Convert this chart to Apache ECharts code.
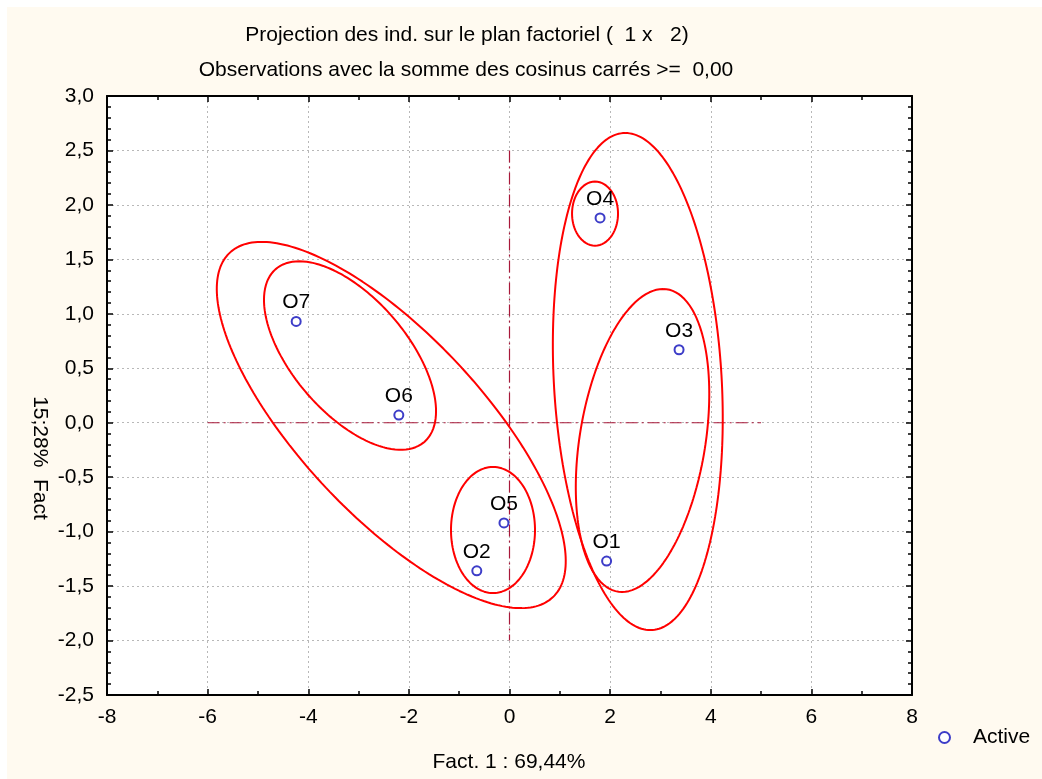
<!DOCTYPE html>
<html>
<head>
<meta charset="utf-8">
<script src="https://cdn.jsdelivr.net/npm/echarts@6/dist/echarts.min.js"></script>
<style>
html,body{margin:0;padding:0;background:#fff;}
#c{width:1042px;height:779px;}
</style>
</head>
<body>
<div id="c"></div>
<script>
// ---- data ----
const pointLabels = ['O1','O2','O3','O4','O5','O6','O7'];
const fact1 = [1.93, -0.65, 3.37, 1.80, -0.11, -2.20, -4.24];
const fact2 = [-1.27, -1.36, 0.67, 1.88, -0.92, 0.07, 0.93];
const seriesName = 'Active';
// ellipses: [cx, cy, ux, uy, vx, vy] (centre and two conjugate semi-diameters, in data units)
const ellipseO4 = [1.70, 1.92, 0, 0.294, 0.457, 0];
const ellipseO134 = [2.55, 0.378, -0.249, 2.282, 1.67, 0];
const ellipseO13 = [2.644, -0.163, 0.408, 1.391, 1.262, 0];
const ellipseO25 = [-0.328, -0.985, 0, 0.579, 0.835, 0];
const ellipseO67 = [-3.17, 0.617, 1.46, -0.80, -0.89, -0.33];
const ellipseO2567 = [-2.35, -0.021, 3.215, -1.58, -1.30, -0.575];
const refLineH = [[-6, 0], [5, 0]];
const refLineV = [[0, 2.5], [0, -2]];
const xTicks = {min: -8, max: 8, interval: 2};
const yTicks = {min: -2.5, max: 3, interval: 0.5};
const titleText = 'Projection des ind. sur le plan factoriel (  1 x   2)';
const subtitleText = 'Observations avec la somme des cosinus carrés >=  0,00';
const xName = 'Fact. 1 : 69,44%';
const yName = '15;28%  Fact';

// ---- build ----
const FONT = 'Liberation Sans, Arial, sans-serif';
const FS = 21;
function ellipsePts(e) {
  const pts = [];
  const n = 240;
  for (let i = 0; i <= n; i++) {
    const t = 2 * Math.PI * i / n;
    pts.push([e[0] + e[2] * Math.cos(t) + e[4] * Math.sin(t),
              e[1] + e[3] * Math.cos(t) + e[5] * Math.sin(t)]);
  }
  return pts;
}
const ellipses = [ellipseO4, ellipseO134, ellipseO13, ellipseO25, ellipseO67, ellipseO2567];
const pts = fact1.map((x, i) => ({value: [x, fact2[i]], name: pointLabels[i]}));

const chart = echarts.init(document.getElementById('c'));
const grid = {left: 107, top: 96, width: 805, height: 599, show: true, backgroundColor: '#ffffff', borderWidth: 0};
const commonAxis = {
  axisLine: {show: true, onZero: false, lineStyle: {color: '#000', width: 2}},
  axisTick: {show: true, inside: true, length: 6, lineStyle: {color: '#000', width: 1.5}},
  minorTick: {show: true, length: 4, lineStyle: {color: '#000', width: 1.5}},
};
const series = [];
ellipses.forEach(e => series.push({
  type: 'line', data: ellipsePts(e), showSymbol: false, symbol: 'none', silent: true,
  lineStyle: {color: '#ff0000', width: 2}, z: 3, animation: false
}));
[refLineH, refLineV].forEach(l => series.push({
  type: 'line', data: l, showSymbol: false, symbol: 'none', silent: true,
  lineStyle: {color: '#a8183a', width: 1.2, type: [12, 4, 2, 4]}, z: 2, animation: false
}));
series.push({
  name: seriesName, type: 'scatter', data: pts, symbol: 'circle', symbolSize: 9,
  itemStyle: {color: '#ffffff', borderColor: '#3d3dc8', borderWidth: 2, opacity: 1},
  label: {show: true, position: 'top', distance: 3, formatter: p => p.name, color: '#000', fontSize: FS, fontFamily: FONT},
  z: 5, animation: false
});

chart.setOption({
  backgroundColor: '#ffffff',
  animation: false,
  grid: grid,
  graphic: [
    {type: 'rect', shape: {x: 7, y: 7, width: 1042, height: 779}, style: {fill: '#fffaf0'}, z: -10, silent: true},
    {type: 'text', x: 467, y: 35, style: {text: titleText, font: FS + 'px ' + FONT, fill: '#000', textAlign: 'center', textVerticalAlign: 'middle'}},
    {type: 'text', x: 466, y: 70, style: {text: subtitleText, font: FS + 'px ' + FONT, fill: '#000', textAlign: 'center', textVerticalAlign: 'middle'}},
    {type: 'text', x: 509, y: 762, style: {text: xName, font: FS + 'px ' + FONT, fill: '#000', textAlign: 'center', textVerticalAlign: 'middle'}},
    {type: 'text', x: 40, y: 458, rotation: -Math.PI / 2, style: {text: yName, font: FS + 'px ' + FONT, fill: '#000', textAlign: 'center', textVerticalAlign: 'middle'}}
  ],
  legend: {
    data: [seriesName], left: 933, top: 722, itemWidth: 11, itemHeight: 11, itemGap: 10,
    icon: 'circle',
    textStyle: {fontSize: FS, fontFamily: FONT, color: '#000', padding: [0, 0, 0, 18]}
  },
  xAxis: [
    Object.assign({}, commonAxis, {
      type: 'value', position: 'bottom', min: xTicks.min, max: xTicks.max, interval: xTicks.interval,
      minorTick: Object.assign({}, commonAxis.minorTick, {splitNumber: 2}),
      axisLabel: {color: '#000', fontSize: FS, fontFamily: FONT, margin: 12, formatter: v => String(v).replace('.', ',')},
      splitLine: {show: true, lineStyle: {color: '#b8b8b8', width: 1, type: [2, 3]}}
    }),
    Object.assign({}, commonAxis, {
      type: 'value', position: 'top', min: xTicks.min, max: xTicks.max, interval: xTicks.interval,
      minorTick: Object.assign({}, commonAxis.minorTick, {splitNumber: 2}),
      axisLabel: {show: false}, splitLine: {show: false}
    })
  ],
  yAxis: [
    Object.assign({}, commonAxis, {
      type: 'value', position: 'left', min: yTicks.min, max: yTicks.max, interval: yTicks.interval,
      minorTick: Object.assign({}, commonAxis.minorTick, {splitNumber: 5}),
      axisLabel: {color: '#000', fontSize: FS, fontFamily: FONT, margin: 13, formatter: v => v.toFixed(1).replace('.', ',')},
      splitLine: {show: true, lineStyle: {color: '#b8b8b8', width: 1, type: [2, 3]}}
    }),
    Object.assign({}, commonAxis, {
      type: 'value', position: 'right', min: yTicks.min, max: yTicks.max, interval: yTicks.interval,
      minorTick: Object.assign({}, commonAxis.minorTick, {splitNumber: 5}),
      axisLabel: {show: false}, splitLine: {show: false}
    })
  ],
  series: series
});
</script>
</body>
</html>
